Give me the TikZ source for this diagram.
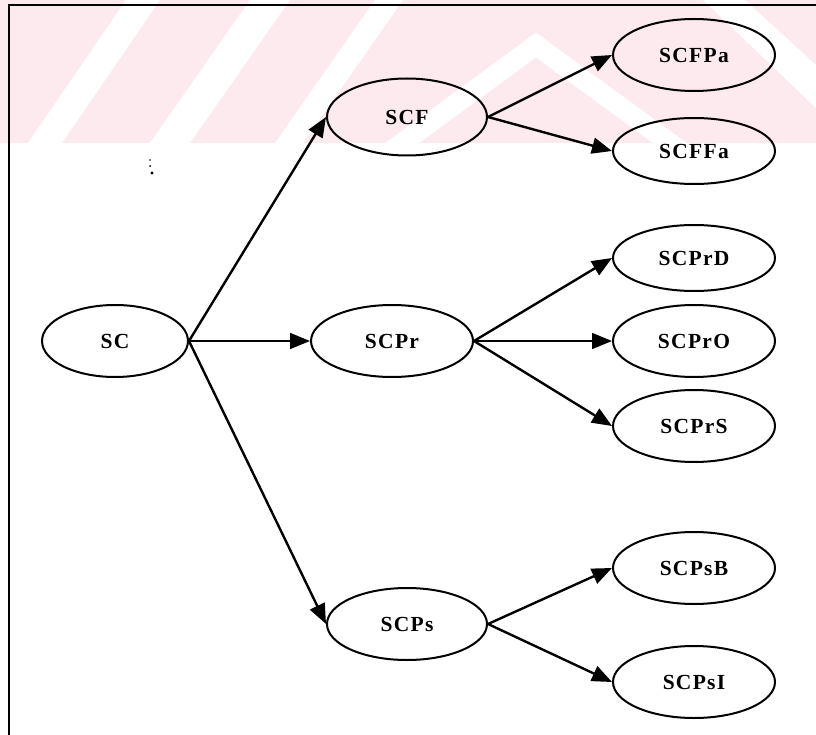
\documentclass[tikz,border=0pt]{standalone}
\usepackage{fontspec}
\setmainfont{Liberation Serif}
\newfontfamily\lblfont[LetterSpace=6]{Liberation Serif}
\usetikzlibrary{arrows.meta,positioning,shapes.geometric}
\definecolor{wmpink}{RGB}{252,234,239}

\begin{document}
\begin{tikzpicture}[
          x=1pt, y=1pt,
          font=\lblfont\fontsize{21.5}{25}\selectfont\bfseries,
          on grid,
          ell/.style={draw=black, ellipse, line width=2pt, inner sep=0pt,
                      minimum width=162pt, minimum height=72pt},
          fl/.style={-{Triangle[length=20pt,width=16pt]}, draw=black, line width=2.4pt}
        ]
        \useasboundingbox (0,0) rectangle (816,-735);
        % faint watermark band at the top
        \fill[wmpink] (0,0) rectangle (816,-143);
        \fill[white] (28,-143) -- (62,-143) -- (160,0) -- (126,0) -- cycle;
        \fill[white] (150,-143) -- (190,-143) -- (290,0) -- (250,0) -- cycle;
        \fill[white] (275,-143) -- (303,-143) -- (403,0) -- (375,0) -- cycle;
        \draw[white, line width=20pt] (390,-152) -- (536,-45) -- (682,-152);
        \fill[white] (703,0) -- (745,0) -- (816,-65) -- (816,-108) -- cycle;
        % frame
        \draw[line width=2pt] (816,-5) -- (9,-5) -- (9,-735);
        \fill (150,-160) circle (0.9) (150,-166) circle (1) (152,-173) circle (1.6);

        \node[ell, minimum width=146pt] (sc) at (115,-341) {SC};
        \node[ell, right=277pt of sc] (scpr) {SCPr};
        \node[ell, minimum width=160pt, minimum height=77pt, above right=224pt and 15pt of scpr] (scf) {SCF};
        \node[ell, minimum width=160pt, below right=283pt and 15pt of scpr] (scps) {SCPs};
        \node[ell, above right=62pt and 287pt of scf] (scfpa) {SCFPa};
        \node[ell, minimum height=66pt, below right=34pt and 287pt of scf] (scffa) {SCFFa};
        \node[ell, right=302pt of scpr] (scpro) {SCPrO};
        \node[ell, minimum height=66pt, above=83pt of scpro] (scprd) {SCPrD};
        \node[ell, below=85pt of scpro] (scprs) {SCPrS};
        \node[ell, above right=56pt and 287pt of scps] (scpsb) {SCPsB};
        \node[ell, below right=58pt and 287pt of scps] (scpsi) {SCPsI};

        \draw[fl] (sc.east) -- (scf.west);
        \draw[fl, line width=1.8pt] (sc.east) -- (scpr.west);
        \draw[fl] (sc.east) -- (scps.west);
        \draw[fl] (scf.east) -- (scfpa.west);
        \draw[fl] (scf.east) -- (scffa.west);
        \draw[fl] (scpr.east) -- (scprd.west);
        \draw[fl, line width=1.8pt] (scpr.east) -- (scpro.west);
        \draw[fl] (scpr.east) -- (scprs.west);
        \draw[fl] (scps.east) -- (scpsb.west);
        \draw[fl] (scps.east) -- (scpsi.west);
      \end{tikzpicture}
\end{document}
